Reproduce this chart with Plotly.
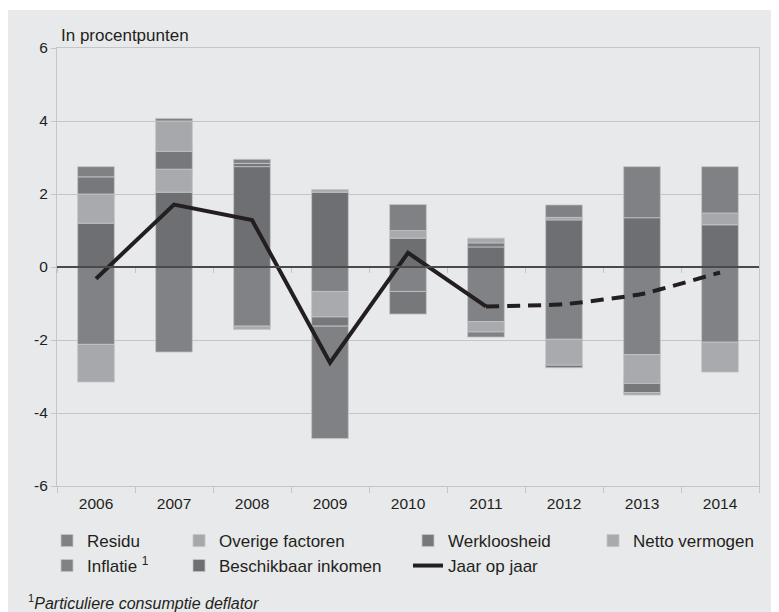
import plotly.graph_objects as go

years = ["2006", "2007", "2008", "2009", "2010", "2011", "2012", "2013", "2014"]

# bijdragen in procentpunten (stapelvolgorde vanaf de nullijn)
beschikbaar_inkomen = [1.20, 2.05, 2.75, 2.05, 0.79, 0.55, 1.29, 1.35, 1.16]
inflatie = [-2.12, -2.33, -1.62, -0.67, -0.67, -1.50, -1.98, -2.40, -2.06]
netto_vermogen = [0.80, 0.63, -0.09, -0.70, 0.21, -0.28, -0.71, -0.79, -0.82]
werkloosheid = [0.47, 0.49, 0.09, -0.25, -0.62, 0.11, -0.07, -0.25, 0.0]
overige_factoren = [-1.03, 0.83, 0.0, 0.07, 0.0, 0.13, 0.07, -0.07, 0.32]
residu = [0.28, 0.07, 0.11, -3.08, 0.71, -0.14, 0.34, 1.40, 1.27]

jaar_op_jaar = [-0.32, 1.71, 1.29, -2.62, 0.39, -1.08, None, None, None]
jaar_op_jaar_raming = [None, None, None, None, None, -1.08, -1.02, -0.74, -0.15]

y_ticks = [-6, -4, -2, 0, 2, 4, 6]
y_tick_labels = ["-6", "-4", "-2", "0", "2", "4", "6"]

TEXT = "#231f20"
PANEL = "#e8e9eb"
GRID = "#c4c5c7"
FONT = "Liberation Sans, Arial, sans-serif"

# (naam, waarden, kleur, legenda-id)
series = [
    ("Beschikbaar inkomen", beschikbaar_inkomen, "#6e6f72", "legend4"),
    ("Inflatie <sup>1</sup>", inflatie, "#818285", "legend2"),
    ("Netto vermogen", netto_vermogen, "#a9aaad", "legend7"),
    ("Werkloosheid", werkloosheid, "#77787b", "legend5"),
    ("Overige factoren", overige_factoren, "#a7a8ab", "legend3"),
    ("Residu", residu, "#808184", "legend"),
]

fig = go.Figure()

for name, vals, color, leg in series:
    fig.add_trace(
        go.Bar(
            x=years,
            y=vals,
            name=name,
            marker=dict(color=color, line=dict(color="#c3c4c6", width=0.8)),
            legend=leg,
        )
    )

fig.add_trace(
    go.Scatter(
        x=years,
        y=jaar_op_jaar,
        name="Jaar op jaar",
        mode="lines",
        line=dict(color=TEXT, width=4),
        legend="legend6",
    )
)
fig.add_trace(
    go.Scatter(
        x=years,
        y=jaar_op_jaar_raming,
        mode="lines",
        line=dict(color=TEXT, width=4, dash="13px,8px", shape="spline", smoothing=0.4),
        showlegend=False,
        connectgaps=False,
    )
)
# onzichtbare trace voor de as door nul
fig.add_trace(
    go.Scatter(
        x=years,
        y=[0] * len(years),
        xaxis="x2",
        mode="markers",
        marker=dict(opacity=0),
        hoverinfo="skip",
        showlegend=False,
    )
)

# plotgebied in referentiepixels: x 57..759, y 48..486
# (pagina heeft 8px body-marge, dus marges 8px kleiner)
def px_x(px):
    return (px - 57) / 702


def px_y(py):
    return (486 - py) / 438


legend_base = dict(
    orientation="v",
    xanchor="left",
    yanchor="middle",
    bgcolor="rgba(0,0,0,0)",
    font=dict(family=FONT, size=17, color=TEXT),
    itemclick=False,
)
col_text = [89, 221, 450, 635]
row_y = [541, 566]
legend_pos = {
    "legend": (0, 0),
    "legend3": (1, 0),
    "legend5": (2, 0),
    "legend7": (3, 0),
    "legend2": (0, 1),
    "legend4": (1, 1),
    "legend6": (2, 1),
}
legends = {}
for lid, (c, r) in legend_pos.items():
    legends[lid] = dict(legend_base, x=px_x(col_text[c] - 42), y=px_y(row_y[r]))

fig.update_layout(
    width=779,
    height=612,
    barmode="relative",
    bargap=0.53,
    paper_bgcolor="white",
    plot_bgcolor=PANEL,
    font=dict(family=FONT, size=15, color=TEXT),
    margin=dict(l=49, r=28, t=40, b=134, autoexpand=False),
    showlegend=True,
    xaxis=dict(
        type="category",
        categoryorder="array",
        categoryarray=years,
        range=[-0.5, 8.5],
        showgrid=False,
        showline=True,
        mirror=True,
        linecolor=GRID,
        linewidth=1,
        ticks="outside",
        tickson="boundaries",
        ticklen=6,
        tickcolor=GRID,
        tickfont=dict(size=15.5, color=TEXT),
        ticklabelstandoff=3,
        zeroline=False,
    ),
    xaxis2=dict(
        type="category",
        categoryorder="array",
        categoryarray=years,
        range=[-0.5, 8.5],
        overlaying="x",
        anchor="free",
        position=0.5,
        side="bottom",
        showgrid=False,
        showline=True,
        linecolor="#4a4a4c",
        linewidth=1.6,
        ticks="outside",
        tickson="boundaries",
        ticklen=5,
        tickcolor=GRID,
        showticklabels=False,
        zeroline=False,
    ),
    yaxis=dict(
        range=[-6, 6],
        tickmode="array",
        tickvals=y_ticks,
        ticktext=y_tick_labels,
        showgrid=True,
        gridcolor=GRID,
        gridwidth=1,
        showline=True,
        mirror=True,
        linecolor=GRID,
        linewidth=1,
        ticks="outside",
        ticklen=5,
        tickcolor=GRID,
        tickfont=dict(size=15.5, color=TEXT),
        zeroline=False,
    ),
    shapes=[
        dict(
            type="rect",
            xref="paper",
            yref="paper",
            x0=px_x(7),
            x1=px_x(771),
            y0=px_y(625),
            y1=px_y(10),
            fillcolor=PANEL,
            line=dict(width=0),
            layer="below",
        )
    ],
    annotations=[
        dict(
            text="In procentpunten",
            xref="paper",
            yref="paper",
            x=px_x(59),
            y=px_y(35),
            xanchor="left",
            yanchor="middle",
            showarrow=False,
            font=dict(size=17, color=TEXT),
        ),
        dict(
            text="<sup>1</sup><i>Particuliere consumptie deflator</i>",
            xref="paper",
            yref="paper",
            x=px_x(26),
            y=px_y(602),
            xanchor="left",
            yanchor="middle",
            showarrow=False,
            font=dict(size=16, color=TEXT),
        ),
    ],
    **legends,
)

fig.write_html("out.html")
